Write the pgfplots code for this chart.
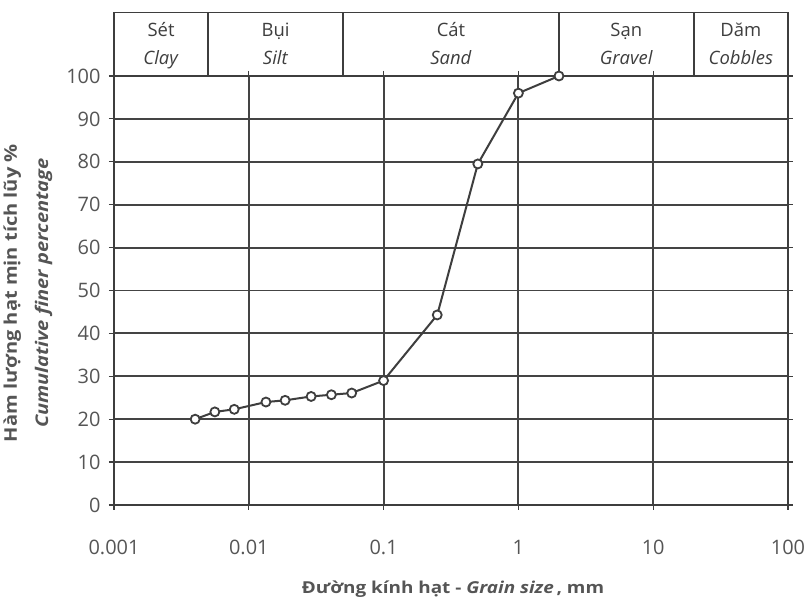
\documentclass[border=0pt]{standalone}
\usepackage{pgfplots}
\pgfplotsset{compat=1.18}
\usepackage{fontspec}
\setmainfont{Open Sans}
\newfontfamily\labelfont[FakeStretch=1.15]{Open Sans}
\definecolor{inkgray}{HTML}{3E3E3E}
\definecolor{labelgray}{HTML}{555555}
\definecolor{gridgray}{HTML}{444444}

% grain size distribution (cumulative percent finer)
\pgfplotstableread{
d       p
0.004   20.0
0.0056  21.7
0.0078  22.3
0.0134  24.0
0.0186  24.4
0.029   25.3
0.041   25.7
0.058   26.1
0.1     29.0
0.25    44.3
0.5     79.5
1       96.0
2       100.0
}\gradation

\begin{document}
\begin{tikzpicture}[x=1bp,y=1bp]
\useasboundingbox (-114,-93) rectangle (692,505);
\fill[white] (-114,-93) rectangle (692,505);
\begin{axis}[
  at={(0,0)}, anchor=south west,
  scale only axis, width=674bp, height=429bp,
  xmode=log, log basis x=10,
  xmin=0.001, xmax=100, ymin=0, ymax=100,
  xtick={0.001,0.01,0.1,1,10,100},
  xticklabels={0.001,0.01,0.1,1,10,100},
  ytick={0,10,...,100},
  grid=both,
  major grid style={gridgray, line width=1.9bp},
  minor grid style={black!38, line width=0.9bp, dash pattern=on 3bp off 11.3bp},
  axis line style={inkgray, line width=1.9bp},
  major tick style={inkgray, line width=1.2bp},
  minor tick length=0pt, major tick length=5bp, tick align=outside,
  /pgf/number format/assume math mode=true,
  tick label style={font=\fontsize{20}{22}\selectfont, color=labelgray},
  xticklabel style={anchor=base, yshift=-44bp},
  yticklabel style={xshift=-5bp},
  clip=false,
]
\addplot[color=inkgray, line width=2bp, mark=*, mark size=4.5bp,
  mark options={fill=white, draw=inkgray, line width=1.8bp}]
  table[x=d, y=p] {\gradation};

% axis titles
\node[anchor=base, font=\labelfont\fontsize{16.5}{18}\selectfont\bfseries, text=labelgray]
  at (axis description cs:0.503,0) [yshift=-88bp] {Đường kính hạt - \textit{Grain size}\,, mm};
\node[anchor=base, rotate=90, font=\labelfont\fontsize{17.5}{18}\selectfont\bfseries, text=labelgray]
  at (axis description cs:-0.1440,0.494) {Hàm lượng hạt mịn tích lũy \%};
\node[anchor=base, rotate=90, font=\labelfont\fontsize{17.5}{18}\selectfont\bfseries\itshape, text=labelgray]
  at (axis description cs:-0.0979,0.494) {Cumulative finer percentage};

% soil class band above the chart
\draw[inkgray, line width=1.9bp] (axis cs:0.001,100) rectangle (axis cs:100,114.8);
\draw[inkgray, line width=1.9bp] (axis cs:0.005,100) -- (axis cs:0.005,114.8);
\draw[inkgray, line width=1.9bp] (axis cs:0.05,100) -- (axis cs:0.05,114.8);
\draw[inkgray, line width=1.9bp] (axis cs:2,100) -- (axis cs:2,114.8);
\draw[inkgray, line width=1.9bp] (axis cs:20,100) -- (axis cs:20,114.8);
\node[anchor=base, font=\fontsize{18.5}{20}\selectfont, text=inkgray] at (axis cs:0.002236,109.2) {Sét};
\node[anchor=base, font=\fontsize{18.5}{20}\selectfont, text=inkgray] at (axis cs:0.002236,102.6) {\textit{Clay}};
\node[anchor=base, font=\fontsize{18.5}{20}\selectfont, text=inkgray] at (axis cs:0.0158,109.2) {Bụi};
\node[anchor=base, font=\fontsize{18.5}{20}\selectfont, text=inkgray] at (axis cs:0.0158,102.6) {\textit{Silt}};
\node[anchor=base, font=\fontsize{18.5}{20}\selectfont, text=inkgray] at (axis cs:0.316,109.2) {Cát};
\node[anchor=base, font=\fontsize{18.5}{20}\selectfont, text=inkgray] at (axis cs:0.316,102.6) {\textit{Sand}};
\node[anchor=base, font=\fontsize{18.5}{20}\selectfont, text=inkgray] at (axis cs:6.32,109.2) {Sạn};
\node[anchor=base, font=\fontsize{18.5}{20}\selectfont, text=inkgray] at (axis cs:6.32,102.6) {\textit{Gravel}};
\node[anchor=base, font=\fontsize{18.5}{20}\selectfont, text=inkgray] at (axis cs:44.7,109.2) {Dăm};
\node[anchor=base, font=\fontsize{18.5}{20}\selectfont, text=inkgray] at (axis cs:44.7,102.6) {\textit{Cobbles}};
\end{axis}
\end{tikzpicture}
\end{document}
